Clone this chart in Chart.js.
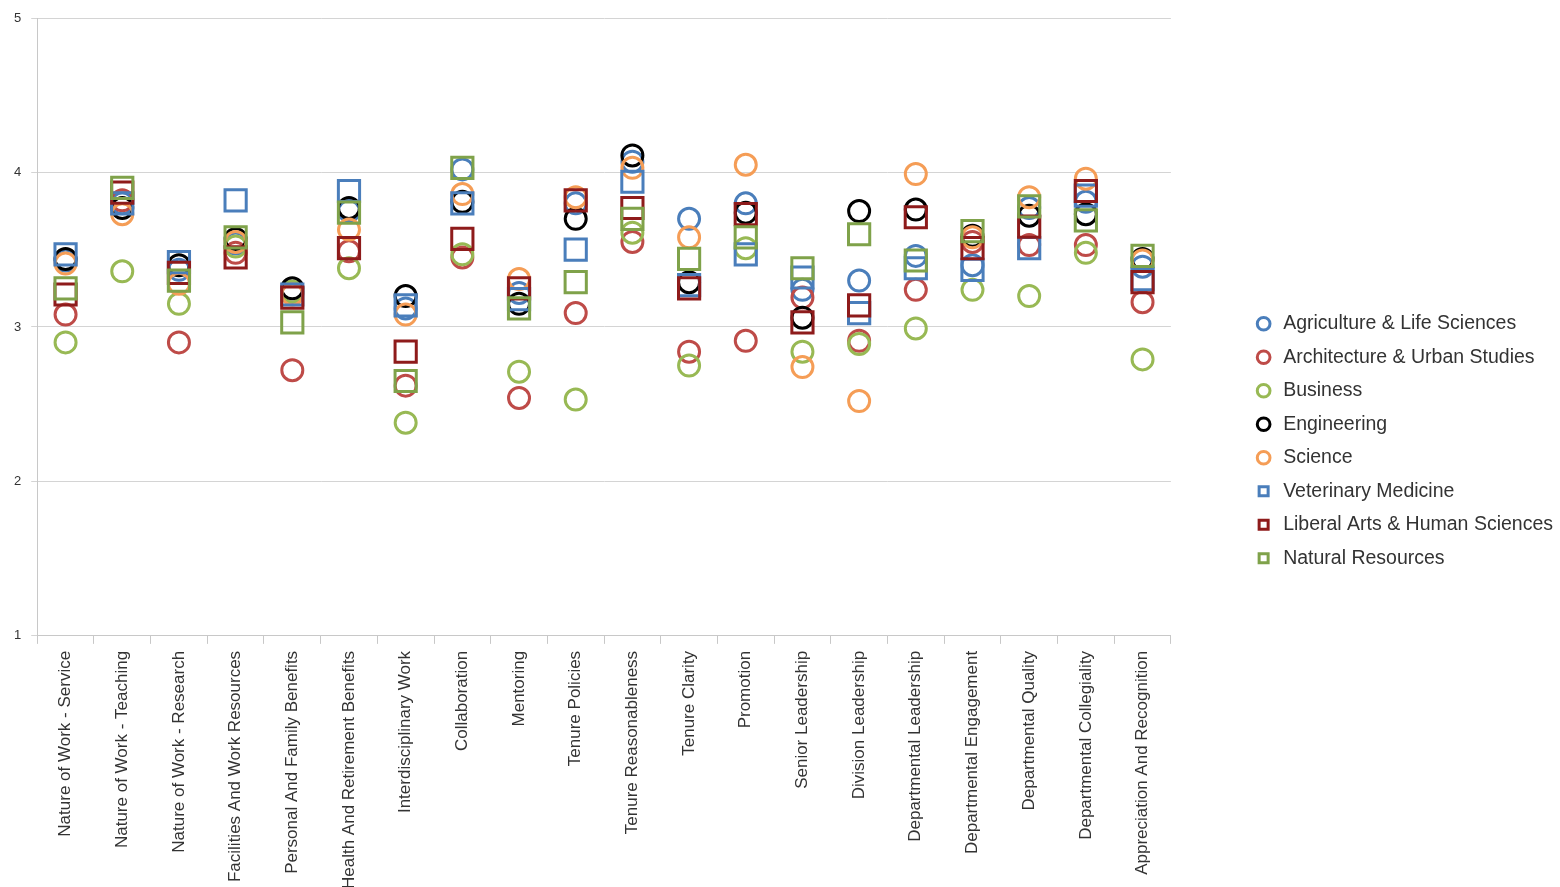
<!DOCTYPE html>
<html lang="en">
  <head>
    <meta charset="UTF-8" />
    <title>Faculty Survey Scores by College</title>
    <script src="https://cdn.jsdelivr.net/npm/chart.js"></script>
    <style>
      html,
      body {
        margin: 0;
        padding: 0;
        background: #ffffff;
      }
      .chart-wrap {
        position: relative;
        width: 1560px;
        height: 887px;
      }
    </style>
  </head>
  <body>
    <div class="chart-wrap">
      <canvas id="surveyChart"></canvas>
    </div>

    <script>
      // Survey topics along the x axis
      var topics = [
        "Nature of Work - Service",
        "Nature of Work - Teaching",
        "Nature of Work - Research",
        "Facilities And Work Resources",
        "Personal And Family Benefits",
        "Health And Retirement Benefits",
        "Interdisciplinary Work",
        "Collaboration",
        "Mentoring",
        "Tenure Policies",
        "Tenure Reasonableness",
        "Tenure Clarity",
        "Promotion",
        "Senior Leadership",
        "Division Leadership",
        "Departmental Leadership",
        "Departmental Engagement",
        "Departmental Quality",
        "Departmental Collegiality",
        "Appreciation And Recognition",
      ];

      var yTicks = [1, 2, 3, 4, 5];

      // Mean score per topic for each college
      var agriculture = [3.43, 3.80, 3.37, 3.54, 3.22, 3.75, 3.12, 4.02, 3.22, 3.80, 4.07, 3.70, 3.80, 3.24, 3.30, 3.46, 3.40, 3.77, 3.81, 3.39];
      var architecture = [3.08, 3.82, 2.90, 3.48, 2.72, 3.49, 2.62, 3.45, 2.54, 3.09, 3.55, 2.84, 2.91, 3.19, 2.91, 3.24, 3.55, 3.53, 3.53, 3.16];
      var business = [2.90, 3.36, 3.15, 3.52, 3.23, 3.38, 2.38, 3.47, 2.71, 2.53, 3.61, 2.75, 3.51, 2.84, 2.89, 2.99, 3.24, 3.20, 3.48, 2.79];
      var engineering = [3.44, 3.77, 3.40, 3.57, 3.25, 3.77, 3.20, 3.81, 3.15, 3.70, 4.11, 3.29, 3.74, 3.06, 3.75, 3.76, 3.59, 3.72, 3.73, 3.44];
      var science = [3.41, 3.73, 3.28, 3.55, 3.21, 3.63, 3.08, 3.86, 3.31, 3.84, 4.03, 3.58, 4.05, 2.74, 2.52, 3.99, 3.58, 3.84, 3.96, 3.43];
      var vetMedicine = [3.47, 3.80, 3.42, 3.82, 3.21, 3.88, 3.14, 3.80, 3.18, 3.50, 3.94, 3.27, 3.47, 3.32, 3.09, 3.38, 3.37, 3.51, 3.85, 3.31];
      var liberalArts = [3.21, 3.87, 3.35, 3.45, 3.19, 3.51, 2.84, 3.57, 3.25, 3.82, 3.77, 3.25, 3.73, 3.03, 3.14, 3.71, 3.51, 3.65, 3.88, 3.29];
      var naturalResources = [3.25, 3.90, 3.30, 3.58, 3.03, 3.74, 2.65, 4.03, 3.12, 3.29, 3.70, 3.44, 3.58, 3.38, 3.60, 3.43, 3.62, 3.78, 3.69, 3.46];

      var colleges = [
        { name: "Agriculture & Life Sciences", data: agriculture, color: "#4a7ebb", shape: "circle" },
        { name: "Architecture & Urban Studies", data: architecture, color: "#be4b48", shape: "circle" },
        { name: "Business", data: business, color: "#98b954", shape: "circle" },
        { name: "Engineering", data: engineering, color: "#000000", shape: "circle" },
        { name: "Science", data: science, color: "#f59d56", shape: "circle" },
        { name: "Veterinary Medicine", data: vetMedicine, color: "#4a7ebb", shape: "rect" },
        { name: "Liberal Arts & Human Sciences", data: liberalArts, color: "#8e1b1b", shape: "rect" },
        { name: "Natural Resources", data: naturalResources, color: "#7fa24a", shape: "rect" },
      ];

      var datasets = colleges.map(function (c, i) {
        return {
          label: c.name,
          data: c.data,
          showLine: false,
          pointStyle: c.shape,
          pointRadius: c.shape === "rect" ? 15 : 10.5,
          pointHoverRadius: c.shape === "rect" ? 15 : 10.5,
          pointBorderWidth: 3,
          borderWidth: 3,
          borderColor: c.color,
          backgroundColor: "rgba(0,0,0,0)",
          pointBackgroundColor: "rgba(0,0,0,0)",
          // later colleges sit on top of earlier ones
          order: colleges.length - i,
        };
      });

      // leave an empty band between the plot and the legend entries
      var legendGap = {
        id: "legendGap",
        afterInit: function (chart) {
          var legend = chart.legend;
          var extraWidth = 66;
          var shiftX = 69;
          var shiftY = -11;
          var fit = legend.fit;
          legend.fit = function () {
            fit.call(this);
            this.width += extraWidth;
          };
          var draw = legend.draw;
          legend.draw = function () {
            this.left += shiftX;
            this.top += shiftY;
            this.bottom += shiftY;
            draw.call(this);
            this.left -= shiftX;
            this.top -= shiftY;
            this.bottom -= shiftY;
          };
        },
      };

      Chart.defaults.font.family = '"Liberation Sans", Arial, sans-serif';

      new Chart(document.getElementById("surveyChart").getContext("2d"), {
        type: "line",
        data: { labels: topics, datasets: datasets },
        plugins: [legendGap],
        options: {
          responsive: true,
          maintainAspectRatio: false,
          animation: false,
          layout: { padding: { left: 4, top: 8, right: 0, bottom: -9 } },
          plugins: {
            tooltip: { enabled: false },
            legend: {
              position: "right",
              align: "center",
              labels: {
                usePointStyle: true,
                boxHeight: 9,
                padding: 14,
                color: "#333333",
                font: { size: 19.5 },
                sort: function (a, b) {
                  return a.datasetIndex - b.datasetIndex;
                },
              },
            },
          },
          scales: {
            x: {
              type: "category",
              offset: true,
              grid: {
                display: true,
                offset: true,
                drawOnChartArea: false,
                tickLength: 8,
                color: "#c8c8c8",
              },
              border: { color: "#c8c8c8" },
              ticks: {
                autoSkip: false,
                minRotation: 90,
                maxRotation: 90,
                padding: 7,
                color: "#333333",
                font: { size: 17 },
              },
            },
            y: {
              min: 1,
              max: 5,
              afterBuildTicks: function (axis) {
                axis.ticks = yTicks.map(function (v) {
                  return { value: v };
                });
              },
              grid: { color: "#d4d4d4", tickLength: 6 },
              border: { color: "#c8c8c8" },
              ticks: {
                padding: 10,
                color: "#333333",
                font: { size: 13 },
              },
            },
          },
        },
      });
    </script>
  </body>
</html>
